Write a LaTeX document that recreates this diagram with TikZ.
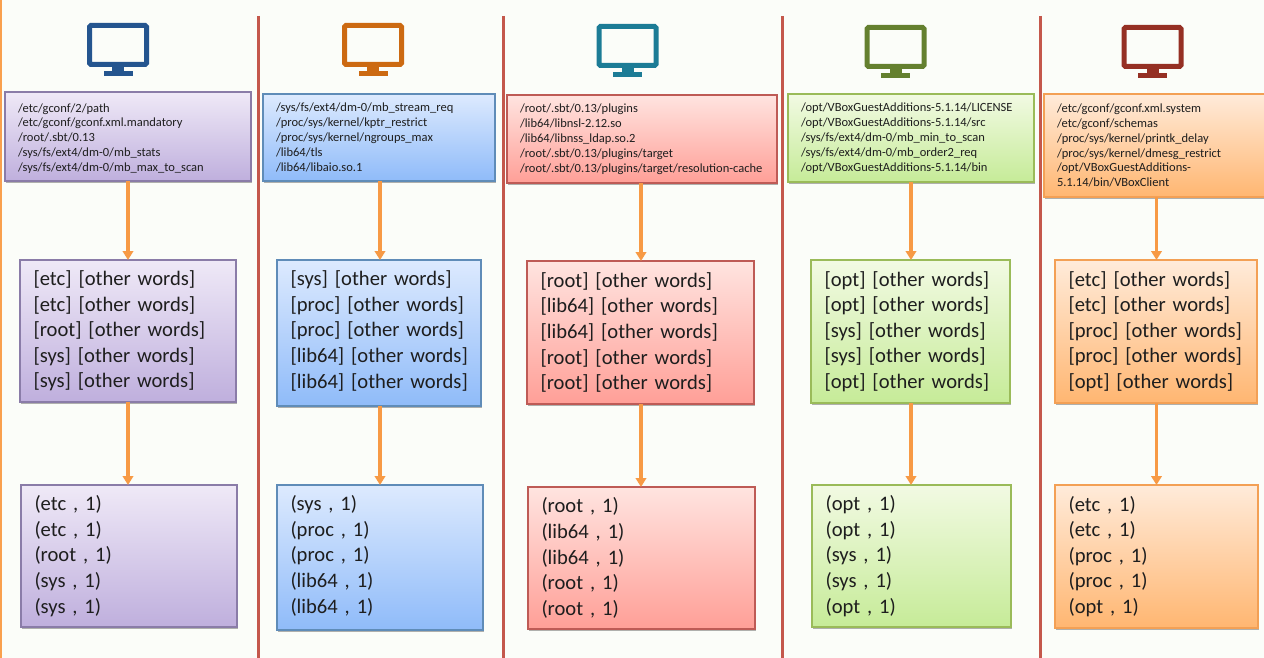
\documentclass[tikz,border=0pt]{standalone}
\usepackage{fontspec}
\setmainfont{Carlito}
\usetikzlibrary{arrows.meta,shadows,calc}
\definecolor{bgc}{HTML}{FBFDF9}
\definecolor{sepred}{HTML}{C4584C}
\definecolor{seporange}{HTML}{F9A04E}
\definecolor{arrowc}{HTML}{F79A45}
\definecolor{txt}{HTML}{1E1E1E}
\definecolor{purT}{HTML}{EFE9F7}\definecolor{purM}{HTML}{DCD2EC}\definecolor{purB}{HTML}{BFAFDD}\definecolor{purL}{HTML}{8A7CA8}\definecolor{purI}{HTML}{24558F}
\definecolor{bluT}{HTML}{DDEAFE}\definecolor{bluM}{HTML}{BCD5FC}\definecolor{bluB}{HTML}{8FBBF9}\definecolor{bluL}{HTML}{5F8CB8}\definecolor{bluI}{HTML}{CC6A12}
\definecolor{redT}{HTML}{FFE4E0}\definecolor{redM}{HTML}{FFCBC5}\definecolor{redB}{HTML}{FF9F97}\definecolor{redL}{HTML}{BE5B56}\definecolor{redI}{HTML}{1C7C96}
\definecolor{greT}{HTML}{F2FAE3}\definecolor{greM}{HTML}{E1F4C6}\definecolor{greB}{HTML}{C6EB98}\definecolor{greL}{HTML}{9ABB59}\definecolor{greI}{HTML}{64802F}
\definecolor{oraT}{HTML}{FFEBDA}\definecolor{oraM}{HTML}{FFD6B0}\definecolor{oraB}{HTML}{FFB671}\definecolor{oraL}{HTML}{F3A055}\definecolor{oraI}{HTML}{953024}
\newcommand{\depthrule}[1]{\rule[\dimexpr-0.25em-#1-#1\relax]{0pt}{\dimexpr0.25em+#1+#1\relax}}
\tikzset{
  x=1pt,y=-1pt,
  boxbase/.style={draw=#1L,line width=1.1pt,top color=#1T,middle color=#1M,bottom color=#1B,
    drop shadow={shadow xshift=0.8pt,shadow yshift=-1.5pt,opacity=.3,fill=black},
    anchor=north west,outer sep=0pt,text=txt,align=left},
  smallbox/.style={boxbase=#1,font=\fontsize{12.5}{14.9}\selectfont,inner xsep=13pt,inner ysep=0pt},
  bigbox/.style={boxbase=#1,font=\fontsize{20.6}{25.6}\selectfont,inner xsep=13.5pt,inner ysep=0pt},
  flow/.style={draw=arrowc,line width=3.2pt,-{Triangle[width=10.5pt,length=9pt]}},
  sepline/.style={draw=sepred,line width=3pt},
  screen/.style={draw=#1,line width=5pt,rounded corners=1.5pt,fill=none},
  standpart/.style={fill=#1,draw=none},
  textdown/.style={execute at begin node={\rule{0pt}{\dimexpr0.78em+#1+#1\relax}}},
  textup/.style={execute at end node={\depthrule{#1}}},
  pics/monitor/.style={code={
    \draw[screen=#1] (-28.5,-22.5) rectangle (28.5,16.5);
    \fill[standpart=#1] (-6,18) rectangle (6,24);
    \fill[standpart=#1] (-14.5,23) rectangle (14.5,28);
  }},
  topbox/.style n args={5}{smallbox=#1,minimum width=#4-#2,minimum height=#5-#3,text width=#4-#2-26},
  lowbox/.style n args={5}{bigbox=#1,minimum width=#4-#2,minimum height=#5-#3,text width=#4-#2-27}
}
\begin{document}
\begin{tikzpicture}
\useasboundingbox (0,0) rectangle (1264,658);
\fill[bgc] (0,0) rectangle (1264,658);
\draw[draw=seporange,line width=2.5pt] (1,0) -- (1,658);
\draw[sepline] (258,16) -- (258,658);
\draw[sepline] (503,16) -- (503,658);
\draw[sepline] (782,16) -- (782,658);
\draw[sepline] (1040,16) -- (1040,658);
\pic at (118,48) {monitor=purI};
\pic at (373,48) {monitor=bluI};
\pic at (627.5,49) {monitor=redI};
\pic at (895.5,50) {monitor=greI};
\pic at (1152.5,50) {monitor=oraI};
% column 1
\node[topbox={pur}{5}{92}{251}{181},textdown=1.5pt] (t1) at (5,92) {/etc/gconf/2/path\\/etc/gconf/gconf.xml.mandatory\\/root/.sbt/0.13\\/sys/fs/ext4/dm-0/mb\_stats\\/sys/fs/ext4/dm-0/mb\_max\_to\_scan};
\node[lowbox={pur}{20}{260}{236}{402}] (m1) at (20,260) {[etc] [other words]\\[0pt][etc] [other words]\\[0pt][root] [other words]\\[0pt][sys] [other words]\\[0pt][sys] [other words]};
\node[lowbox={pur}{21}{485}{237}{627}] (b1) at (21,485) {(etc , 1)\\(etc , 1)\\(root , 1)\\(sys , 1)\\(sys , 1)};
% column 2
\node[topbox={blu}{263}{94}{495}{181}] (t2) at (263,94) {/sys/fs/ext4/dm-0/mb\_stream\_req\\/proc/sys/kernel/kptr\_restrict\\/proc/sys/kernel/ngroups\_max\\/lib64/tls\\/lib64/libaio.so.1};
\node[lowbox={blu}{277}{260}{481}{406},textup=1pt] (m2) at (277,260) {[sys] [other words]\\[0pt][proc] [other words]\\[0pt][proc] [other words]\\[0pt]\mbox{[lib64] [other words]}\\[0pt]\mbox{[lib64] [other words]}};
\node[lowbox={blu}{277}{485}{483}{630},textup=0.5pt] (b2) at (277,485) {(sys , 1)\\(proc , 1)\\(proc , 1)\\(lib64 , 1)\\(lib64 , 1)};
% column 3
\node[topbox={red}{507}{95}{777}{183}] (t3) at (507,95) {/root/.sbt/0.13/plugins\\/lib64/libnsl-2.12.so\\/lib64/libnss\_ldap.so.2\\/root/.sbt/0.13/plugins/target\\/root/.sbt/0.13/plugins/target/resolution-cache};
\node[lowbox={red}{527}{261}{754}{404}] (m3) at (527,261) {[root] [other words]\\[0pt][lib64] [other words]\\[0pt][lib64] [other words]\\[0pt][root] [other words]\\[0pt][root] [other words]};
\node[lowbox={red}{528}{487}{755}{629}] (b3) at (528,487) {(root , 1)\\(lib64 , 1)\\(lib64 , 1)\\(root , 1)\\(root , 1)};
% column 4
\node[topbox={gre}{788}{94}{1034}{182}] (t4) at (788,94) {/opt/VBoxGuestAdditions-5.1.14/LICENSE\\/opt/VBoxGuestAdditions-5.1.14/src\\/sys/fs/ext4/dm-0/mb\_min\_to\_scan\\/sys/fs/ext4/dm-0/mb\_order2\_req\\/opt/VBoxGuestAdditions-5.1.14/bin};
\node[lowbox={gre}{811}{260}{1010}{403}] (m4) at (811,260) {[opt] [other words]\\[0pt][opt] [other words]\\[0pt][sys] [other words]\\[0pt][sys] [other words]\\[0pt][opt] [other words]};
\node[lowbox={gre}{812}{485}{1011}{627}] (b4) at (812,485) {(opt , 1)\\(opt , 1)\\(sys , 1)\\(sys , 1)\\(opt , 1)};
% column 5
\node[topbox={ora}{1044}{94}{1266}{197}] (t5) at (1044,94) {/etc/gconf/gconf.xml.system\\/etc/gconf/schemas\\/proc/sys/kernel/printk\_delay\\/proc/sys/kernel/dmesg\_restrict\\/opt/VBoxGuestAdditions-\\5.1.14/bin/VBoxClient};
\node[lowbox={ora}{1055}{260}{1257}{403}] (m5) at (1055,260) {[etc] [other words]\\[0pt][etc] [other words]\\[0pt][proc] [other words]\\[0pt][proc] [other words]\\[0pt][opt] [other words]};
\node[lowbox={ora}{1055}{485}{1258}{628}] (b5) at (1055,485) {(etc , 1)\\(etc , 1)\\(proc , 1)\\(proc , 1)\\(opt , 1)};
\foreach \i/\d in {1/0,2/1,3/0.5,4/0.5,5/0.5}{
  \draw[flow] ([xshift=\d pt]m\i.north |- t\i.south) -- ([xshift=\d pt]m\i.north);
  \draw[flow] ([xshift=\d pt]m\i.south) -- ([xshift=\d pt]m\i.south |- b\i.north);
}
\end{tikzpicture}
\end{document}
